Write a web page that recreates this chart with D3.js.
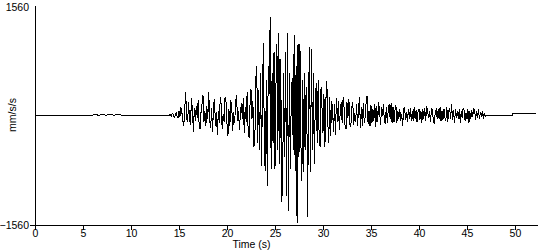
<!DOCTYPE html>
<html>
<head>
<meta charset="utf-8">
<script src="https://cdn.jsdelivr.net/npm/d3@7"></script>
<style>
  html, body { margin: 0; padding: 0; background: #fff; }
  svg { display: block; }
  text { font-family: "Liberation Sans", Arial, sans-serif; font-size: 10.5px; fill: #000; }
</style>
</head>
<body>
<svg id="chart" width="550" height="250"></svg>
<script>
// ---- data ----
const xTickValues = [0, 5, 10, 15, 20, 25, 30, 35, 40, 45, 50];
const yTickValues = [-1560, 1560];
const xLabel = "Time (s)";
const yLabel = "mm/s/s";

// quiet part before the event (time s, value mm/s/s)
const preTimes  = [0, 6.0, 6.3, 6.6, 7.0, 7.4, 7.8, 8.2, 8.6, 9.0, 14.0];
const preValues = [0, 0, 12, -5, 10, -6, 12, -4, 8, 0, 0];

// strong motion, sampled every 0.1 s from 14.0 s
const strongStart = 14.0;
const strongStep = 0.1;
const strongMotion = [
  0, 10, -15, 25, 5, -30, -10, 40, -20, -45,
  60, -30, 110, 40, -80, -150, 90, 320, -60, -100,
  180, -60, -140, 240, 60, -235, 100, -90, 130, -40,
  210, -140, -200, 50, 160, 280, -100, 60, -160, 120,
  -50, 330, -90, -180, 100, -240, 140, 230, -160, 40,
  -290, 60, -120, 250, 150, -200, 20, -100, 260, 180,
  -120, -300, 80, -150, 210, 110, -220, 40, -120, 190,
  280, -90, 60, -210, 30, 175, -60, 240, -260, 120,
  -100, 320, -200, -320, 150, 375, -60, 200, -450, -380,
  500, 700, -400, 350, -500, 600, -730, 400, 1020, -600,
  -800, 500, -1010, 700, 300, 1390, -770, 600, -400, 900,
  -770, 400, 1000, -500, 1160, -700, 800, -1240, -960, 600,
  -600, 900, -1150, 1160, -1360, 600, -770, 300, 530, -500,
  1140, -800, 700, -1530, 1000, -600, 1000, -400, -940, 500,
  -810, 600, -500, 400, -1440, 300, 970, -810, 930, -500,
  600, -700, 200, 450, -400, 500, -300, -450, 390, 100,
  -250, 300, -460, 200, 475, -100, -390, 250, -300, 200,
  80, -235, 150, -290, 240, -100, 200, -210, 50, 180,
  -120, 250, 100, -150, -200, 180, -40, 220, -130, -170,
  100, 190, -140, 30, -100, 150, -160, 80, 250, -180,
  120, -150, 170, -110, -30, 200, 275, -130, 60, -160,
  140, -120, 90, -90, 160, -170, 130, -100, 180, 40,
  -140, 110, -20, 160, -100, -130, 120, -110, 80, 150,
  -60, 175, -120, 120, -100, 70, 140, -110, 60, -60,
  90, -90, 20, -160, 80, 110, -70, 40, -100, 90,
  -60, 100, -80, 50, -90, 120, -60, 70, -100, 40,
  90, -70, 60, -110, 80, -50, 100, -90, 120, 50,
  -40, 60, -100, 90, 70, -80, -120, 40, 70, -50,
  80, -60, 110, -90, 50, -70, 90, -40, -80, 120,
  -100, 60, 90, -50, 150, -70, 70, -120, 80, -40,
  60, -60, 90, -110, 50, -40, 100, 70, -80, 30,
  -60, 80, -120, 50, -50, 70, -30, 100, 60, -70,
  50, -40, 80, -60, 40, -30, 60, -50, 30, -20,
  0
];

// quiet tail after the event
const postTimes  = [47.2, 49.7, 49.7, 52.2];
const postValues = [0, 0, 15, 15];

// ---- build points ----
const points = [];
preTimes.forEach((t, i) => points.push([t, preValues[i]]));
strongMotion.forEach((v, i) => points.push([strongStart + i * strongStep, v]));
postTimes.forEach((t, i) => points.push([t, postValues[i]]));

// ---- chart ----
const svg = d3.select("#chart");
const x = d3.scaleLinear().domain([0, 52.4]).range([35, 538]);
const y = d3.scaleLinear().domain([-1560, 1560]).range([225, 5]);

// waveform
svg.append("path")
  .datum(points)
  .attr("fill", "none")
  .attr("stroke", "#000")
  .attr("stroke-width", 1)
  .attr("shape-rendering", "crispEdges")
  .attr("d", d3.line().x(d => x(d[0])).y(d => y(d[1])));

// x axis
const xAxis = svg.append("g")
  .attr("transform", `translate(0,${y(-1560)})`)
  .call(d3.axisBottom(x).tickValues(xTickValues).tickSize(5).tickSizeOuter(0).tickFormat(d3.format("d")));
xAxis.select(".domain").attr("d", `M30,0.5H538`).attr("shape-rendering", "crispEdges");
xAxis.selectAll(".tick line").attr("shape-rendering", "crispEdges");
xAxis.selectAll(".tick text").attr("dy", "0.55em").attr("y", 6)
  .style("font-family", "'Liberation Sans', Arial, sans-serif").style("font-size", "10.5px");

// y axis
const yAxis = svg.append("g")
  .attr("transform", `translate(${x(0)},0)`)
  .call(d3.axisLeft(y).tickValues(yTickValues).tickSize(0).tickSizeOuter(0).tickPadding(6).tickFormat(d3.format("d")));
yAxis.select(".domain").attr("shape-rendering", "crispEdges");
yAxis.selectAll(".tick text")
  .style("font-family", "'Liberation Sans', Arial, sans-serif").style("font-size", "10.5px");
yAxis.selectAll(".tick").filter(d => d === 1560).select("text").attr("dy", "0.5em");

// axis titles
svg.append("text")
  .attr("x", (x(0) + 538) / 2 - 35)
  .attr("y", 248)
  .attr("text-anchor", "middle")
  .text(xLabel);

svg.append("text")
  .attr("transform", `translate(16,${y(0)}) rotate(-90)`)
  .attr("text-anchor", "middle")
  .text(yLabel);
</script>
</body>
</html>
